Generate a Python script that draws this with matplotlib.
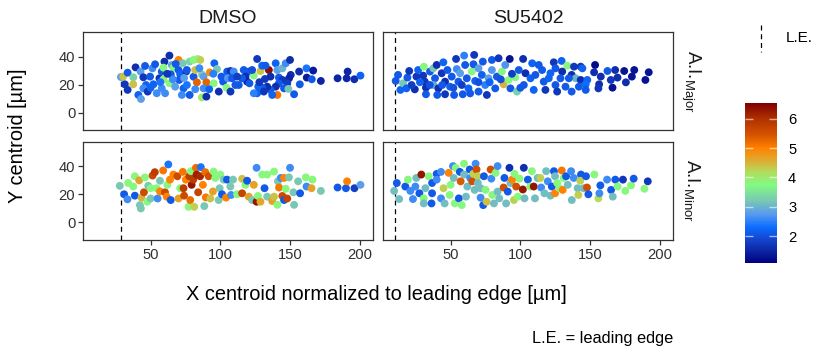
import matplotlib
matplotlib.use("Agg")
import matplotlib.pyplot as plt
from matplotlib.colors import LinearSegmentedColormap, Normalize
from matplotlib.cm import ScalarMappable
from matplotlib.lines import Line2D

plt.rcParams['font.family'] = ['Liberation Sans', 'DejaVu Sans']
plt.rcParams['mathtext.fontset'] = 'custom'
plt.rcParams['mathtext.rm'] = 'Liberation Sans'

# ---------------- data (x centroid, y centroid, A.I.) ----------------
conditions = ["DMSO", "SU5402"]
measures = ["Major", "Minor"]
leading_edge = {"DMSO": 28.5, "SU5402": 10.0}
ai_min, ai_max = 1.08, 6.54
cbar_ticks = [2, 3, 4, 5, 6]
x_ticks = [50, 100, 150, 200]
y_ticks = [0, 20, 40]

dmso_major = [
    (28.7,25.7,2.8),(30.3,26,4.4),(33.5,28.8,2.1),(37.6,25.5,3.3),(31.5,20.5,1.7),(33.5,16.5,1.7),
    (37.5,20.5,4.4),(39.2,32.6,1.6),(41.2,12.9,2.2),(43.1,10,2.8),(42.8,29.6,2.8),(46,33.6,2.1),
    (44.8,25.5,1.7),(46.7,20,2.2),(44.8,17.6,2.6),(47.9,15.3,1.7),(49.6,26,2.1),(51.3,31.9,2.6),
    (53.2,34.8,2.1),(52,20.5,2.2),(54.4,14.1,2.6),(56.3,24.8,1.7),(58,29.6,2.1),(59.9,36.7,1.6),
    (59.2,32.4,3.8),(59.2,24,3.9),(58,17.6,2.6),(60.4,14.1,2.6),(63.5,41,1.6),(63.5,21.2,3.8),
    (65.2,34.3,2.8),(66.4,32.4,3.8),(64.5,27.6,2.1),(67.6,18.8,2.8),(70,37.9,5.0),(70,30.7,2.1),
    (71.2,27.6,2.2),(70.5,23.6,2.1),(73.1,35.5,3.2),(73.6,17.6,2.2),(72.4,12.9,2.6),(75.5,29.6,1.7),
    (76,30.7,2.1),(78,36.7,3.3),(78,12.9,2.1),(80.8,25.9,2.1),(82,30.7,4.4),(80.8,37.9,3.8),
    (83.7,38.6,3.8),(85.6,37.9,4.3),(83.2,21.9,5.3),(86.8,27.6,3.3),(88,26,2.8),(90,21.9,5.3),
    (92.4,29,4.9),(88,17.6,2.6),(86.8,11.2,4.0),(90,11.7,1.6),(95.2,21.2,3.8),(95.7,35.5,2.2),
    (97.6,31.4,3.2),(98.9,15.3,1.6),(100.8,26,2.1),(102,22.4,2.1),(104.4,18.1,3.8),(104.9,29.6,2.1),
    (107.3,30,1.7),(105.4,24.8,2.7),(107.3,15.3,1.7),(50,18,2.2),(57,22,2.4),(66,24,2.6),(76,20,2.4),
    (82,17,2.6),(92,17,2.2),(62,28,1.7),(68,35,2.1),(95,28,2.5),(85,32,2.6),(74,25,2.8),
    (109.6,29.6,2.6),(108.4,24.8,2.1),(113.2,20,2.1),(116.8,30.7,2.1),(120.4,29.6,2.1),(118,26,1.6),
    (119.2,22.4,1.5),(120.9,21.2,2.1),(124,26.7,3.8),(122.8,30.7,2.0),(126.4,38.6,1.7),(128.8,30,4.4),
    (130,33.8,2.2),(134.8,30.7,6.4),(132.4,33.8,2.1),(132,24.3,1.7),(139.7,35.5,2.2),(140.9,30.7,2.8),
    (144.5,31.9,3.0),(146.9,35.5,2.6),(150,37.9,1.6),(150.5,27.2,1.6),(149.3,24.8,1.5),(142,25.3,2.1),
    (144.5,23.6,1.7),(142,21.2,2.1),(148,21.2,1.8),(145.7,17.6,2.1),(148.8,17.2,3.2),(139.7,18.8,1.6),
    (140.9,12.9,5.1),(136,16.5,2.1),(133.6,18.8,1.6),(130,18.1,2.1),(127.2,18.8,2.2),(126.4,14.1,2.2),
    (124,14.1,2.5),(131.2,15.3,1.7),(137.2,12.9,2.2),(152.9,13.4,2.1),(156.5,29.6,1.6),(157,20.5,2.1),
    (161.8,31.9,2.4),(162,25.3,1.4),(165.6,24.1,2.1),(166.6,30.3,1.4),(172.1,22.9,1.5),(184.1,24.8,1.5),
    (190.6,24.8,1.5),(191.3,29.6,1.5),(196.1,24.1,1.6),(200.5,26.7,2.2),(115.6,24.8,2.1),(110.8,20,2.1),
    (112,26,1.8),(136,26,1.6),(128,22,1.7),
]

dmso_minor = [
    (27.9,26,3.2),(31,20,2.1),(33.4,16.4,2.6),(38.7,19,2.1),(33.9,28,3.8),(37.5,25.5,3.8),(38.7,32.8,3.8),
    (41.8,29.9,4.7),(42.3,12.3,3.2),(43,9.9,3.2),(43.5,17.6,4.5),(45.2,21.4,5.6),(45.9,32,3.8),
    (47.6,14.7,3.8),(50,17,3.2),(48.3,26,3.2),(50,24.3,3.8),(51.4,33.3,5.6),(53,35.7,5.8),(54.3,24.3,3.8),
    (55,17,2.6),(56.7,22,5.0),(56.7,29.6,3.2),(59,36.9,5.1),(60.3,21.4,5.6),(61.5,18.3,5.0),(62.7,41.2,2.4),
    (62,26.7,3.8),(63.9,30.4,5.0),(64.4,15.9,2.1),(66.3,34,5.0),(69.2,32.8,5.6),(70,17,4.7),(71.2,24.3,3.8),
    (73.6,24.3,5.8),(73.1,35.9,5.1),(74,19,5.6),(75.2,30.4,5.0),(77.2,11.1,3.8),(78.4,15.9,5.2),
    (77.7,32.8,5.8),(78.9,36.4,3.8),(79.4,26.7,6.3),(80.6,30.4,5.8),(81.3,11.1,4.3),(82.5,38.8,5.2),
    (83,34,6.2),(84.1,21.4,5.7),(86,39.3,2.4),(85.5,32.8,6.1),(87.5,26.7,5.0),(89.2,35.7,5.2),
    (89.6,17.8,5.1),(88.5,11.6,3.2),(91.6,32.8,5.5),(92.8,17,4.4),(95.2,36.1,3.8),(94.7,22,4.7),
    (96.4,31.6,3.8),(98.8,15.9,3.2),(99.5,24.3,3.2),(100,34,3.8),(101.2,20,2.1),(102.4,30.4,3.2),
    (104.1,17.6,5.0),(104.8,30.4,2.1),(107.2,25.5,3.2),(109.1,30.4,3.2),(107.7,19.5,2.6),(112,20,3.8),
    (115.6,31,4.4),(115.6,20.7,5.7),(118,26.7,3.8),(119.2,29.6,2.1),(120.4,18.3,4.7),(122.8,15.9,3.2),
    (124,26.7,4.7),(126,38.8,2.6),(126,14.7,6.3),(127,18.8,3.8),(128.8,14.7,4.6),(130,34,3.8),
    (131.7,24.3,2.1),(133.6,34,3.8),(133.6,18.3,3.2),(137.2,15.2,4.7),(138.5,36.1,3.8),(138.5,18.3,4.4),
    (140.9,12.5,3.8),(141.3,29.2,3.2),(142.1,24.8,5.1),(143.3,31.6,2.6),(144.5,18.8,5.6),(145.7,31.6,5.0),
    (145.7,15.9,2.1),(146.9,23.9,3.8),(148,17,5.7),(149.2,32,3.2),(150,38.8,2.6),(152.9,12.5,3.2),
    (152.4,21.4,3.2),(155.8,29.2,3.2),(157.2,20.7,2.1),(161.3,32,3.8),(161.8,25.5,2.6),(165.4,24.3,4.7),
    (166.1,30.4,3.8),(172.1,22.4,3.2),(184.1,24.8,2.1),(190.1,24.3,2.1),(190.9,29.2,5.0),(196.2,24.3,1.8),
    (200.5,26.7,2.8),
]

su_major = [
    (12.3,27.2,2.1),(10.6,22.9,2.1),(14,16.5,2.2),(15.9,21.2,3.2),(18.3,17.6,2.2),(19,25.3,2.1),
    (20.3,30,1.7),(24.3,16.9,1.6),(25.5,26,1.7),(26.7,30.7,2.2),(30.8,33.1,3.8),(30.3,26.7,1.7),
    (31.5,22.4,1.7),(32.3,18.1,1.6),(32.3,13.4,2.1),(35.2,29.6,2.1),(37.6,31.9,3.2),(38.8,24.8,2.1),
    (37.6,20,2.9),(40,34.3,1.6),(41.2,17.6,1.6),(40.4,12.9,2.1),(43.6,28.4,1.7),(44.8,36.2,2.2),
    (46,22.4,1.6),(46,13.4,1.7),(47.7,30.7,2.1),(50.8,26,2.1),(49.6,18.8,2.2),(52.5,12.9,2.1),
    (53.9,38.6,1.7),(54.4,31.4,2.6),(55.6,22.4,2.1),(56.8,28.4,2.8),(58.7,13.4,2.1),(59.7,41,2.5),
    (60.4,34.3,2.1),(61.6,24.8,2.1),(62.8,17.6,2.2),(65.2,29.6,3.8),(66.4,34.8,2.1),(66.9,41.5,1.7),
    (67.6,22.9,2.2),(70,31.9,2.8),(70,15.3,2.1),(72.4,27.2,2.2),(73.1,36.7,2.1),(74.8,20,2.5),
    (76,12.9,1.7),(77.2,24.8,2.8),(79.6,37.9,2.1),(79.6,30.7,2.7),(82,17.6,2.1),(83.2,26,2.1),
    (84.4,39.1,1.7),(86.8,29.6,3.8),(88,20.5,4.5),(89.2,34.3,2.7),(91.6,23.6,3.8),(92.4,38.6,1.3),
    (92.9,17.6,2.1),(96.4,25.5,3.7),(97.6,15.3,3.3),(98.9,30.7,2.1),(102,38.6,1.6),(102.5,20,2.1),
    (103.7,28.4,1.6),(107.3,24.8,2.2),(108.5,35.5,2.2),(22,20,1.8),(28,22,2.2),(35,20,2.0),(44,20,2.1),
    (52,18,2.0),(58,20,1.8),(64,14,2.1),(70,22,2.0),(78,22,2.2),(86,24,2.0),(94,28,1.8),(100,18,2.1),
    (113.2,34.3,2.1),(110.8,27.2,2.1),(109.6,16.5,2.2),(116.8,22.4,2.1),(118,16.5,1.7),(124,36.2,1.7),
    (125.2,31.9,2.1),(121.6,28.4,2.2),(129.6,37.2,2.2),(133.6,33.8,3.8),(130,29.6,1.6),(128.8,24.8,2.1),
    (125.2,20,2.1),(126.4,15.3,1.7),(132.4,18.8,2.1),(136.8,27.2,1.6),(139.7,24.8,3.0),(143.3,23.6,1.6),
    (138.5,33.1,1.7),(143.3,33.1,1.7),(144.5,31.9,2.2),(148,23.6,2.2),(146.9,20.5,2.3),(146.9,16.5,2.1),
    (142,18.8,2.1),(136.8,15.3,2.1),(153.6,34.3,1.2),(152.9,29.1,1.6),(157.7,26,1.6),(156.5,20.5,1.6),
    (156,17.6,1.7),(162.5,30,2.1),(164.9,23.6,1.7),(166.1,18.1,1.3),(168,30.7,1.6),(169.7,25.3,1.6),
    (174.5,30,1.3),(175.7,21.9,1.6),(180,26,1.3),(181.7,30.7,1.3),(189.7,23.6,1.3),(192.1,29.1,1.3),
    (134.8,24.8,2.1),(120.4,24.8,2.2),(115.6,30.7,2.1),
]

su_minor = [
    (9.5,22.4,3.1),(11.4,28,2.1),(13.1,16.6,3.1),(17.5,25.5,2.1),(19.4,30.4,3.8),(21.1,22.4,2.6),
    (23,16.6,2.6),(24.7,25.5,2.6),(25.4,31.6,3.1),(27.6,20.7,2.1),(29,34,6.3),(30.7,17.1,3.8),
    (30.7,13.5,3.1),(31.9,24.3,3.1),(34.3,32.8,3.8),(36.7,28,2.1),(36.7,20.7,2.1),(36.3,13.5,2.1),
    (40,34.5,2.1),(40,30.4,2.6),(43.1,17.1,2.6),(43.1,35.9,2.6),(44.9,24.3,4.3),(45.7,13.5,3.1),
    (48.6,35.2,5.0),(49.3,19.5,3.8),(50,26.7,3.8),(51.7,40,2.6),(52.2,31.6,3.1),(53,13.5,3.8),
    (53.7,38.8,3.8),(55.9,17.1,2.1),(56.6,35.9,2.1),(57.2,29.2,5.4),(58,12.3,3.8),(59.6,41.7,3.8),
    (59.6,34,3.1),(61,18.3,3.1),(62,25.5,3.1),(63.7,37.6,2.1),(64,31.6,2.6),(65.5,29.2,5.5),
    (66.2,34.5,4.3),(67.2,23.1,3.1),(67.9,41.7,2.6),(68.6,37.6,5.5),(69.5,32.8,4.3),(69.5,28,3.1),
    (71.5,24.3,3.1),(71.5,17.6,2.6),(73.4,12.3,2.1),(73.9,32.8,2.1),(75.1,23.1,3.8),(75.8,14.7,4.4),
    (78.7,37.6,5.5),(79.2,31.1,2.6),(79.9,19.5,3.8),(82.3,35.2,3.8),(81.1,13.5,3.1),(83.7,40,2.6),
    (83.7,21.9,3.1),(84.9,17.1,3.1),(88,24.8,5.5),(88.6,31.6,2.1),(89.8,13.5,3.1),(92.2,38.8,1.6),
    (91,21.9,2.1),(92.9,28,3.1),(94.1,30.4,5.0),(95.4,15.9,4.3),(95.8,34.5,3.8),(97,25.5,5.5),
    (98.2,18.3,3.8),(99.4,31.1,3.8),(101.8,23.4,6.3),(102.5,38.8,1.6),(103,17.1,3.1),(105.4,30.4,2.1),
    (107.1,25.5,3.8),(108.3,36.4,3.8),(109.6,25.5,6.3),(110.5,17.1,3.1),(112.4,31.6,3.1),(114.4,31.6,4.3),
    (114.9,24.8,2.6),(117.3,20.7,3.1),(118.5,36.4,3.1),(119.7,29.2,2.6),(121.6,19,3.1),(122.6,25.5,2.1),
    (124.1,36.4,2.1),(124.9,32.8,3.1),(124.9,20.7,5.0),(126.4,28,3.8),(128,24.3,3.8),(129.7,36.9,5.1),
    (130.4,23.1,5.0),(131.1,31.6,3.8),(132.8,32.8,2.1),(134,26.7,3.1),(136.4,36.4,2.6),(136.9,15.9,3.1),
    (138.3,31.6,2.6),(141.1,24.3,3.1),(141.6,19.5,4.3),(143.5,34,2.1),(143,29.6,4.3),(145.4,24.3,3.1),
    (147.1,32.8,2.1),(147.8,24.8,5.5),(148.8,20,2.1),(153.1,34,3.8),(156,17.1,4.2),(156.7,20.7,2.6),
    (157.4,26.3,2.1),(162.2,30.4,2.6),(165.1,23.1,2.1),(166.3,18.3,3.1),(168.1,30.4,2.1),(169.8,25.5,3.8),
    (173.6,30.4,1.7),(175.3,22.4,3.8),(179.4,26.3,3.8),(181.3,31.1,2.1),(189,23.9,3.8),(191.4,29.2,1.7),
]

panel_data = {("DMSO", "Major"): dmso_major, ("DMSO", "Minor"): dmso_minor,
              ("SU5402", "Major"): su_major, ("SU5402", "Minor"): su_minor}

# ---------------- colour scale ----------------
cnodes = [(1.08, '#000080'), (1.6, '#0f2fae'), (2.0, '#1450dc'), (2.3, '#0a6eff'),
          (2.75, '#5a9af0'), (3.2, '#78c8b4'), (3.75, '#82fa82'), (4.2, '#b4dc5a'),
          (4.5, '#d7b43c'), (5.0, '#ff8200'), (5.5, '#d25000'), (6.0, '#b03200'),
          (6.54, '#800000')]
cmap = LinearSegmentedColormap.from_list(
    'ai', [((v - ai_min) / (ai_max - ai_min), c) for v, c in cnodes])
norm = Normalize(ai_min, ai_max)

# ---------------- layout ----------------
W, H = 815, 353
fig = plt.figure(figsize=(W / 100, H / 100), dpi=100)


def rect(l, t, r, b):
    return [l / W, 1 - b / H, (r - l) / W, (b - t) / H]


col_lr = {"DMSO": (83, 373), "SU5402": (383, 673)}
row_tb = {"Major": (32.5, 130.5), "Minor": (141.5, 240)}

for cond in conditions:
    for meas in measures:
        l, r = col_lr[cond]
        t, b = row_tb[meas]
        ax = fig.add_axes(rect(l, t, r, b))
        pts = panel_data[(cond, meas)]
        xs = [p[0] for p in pts]
        ys = [p[1] for p in pts]
        vs = [p[2] for p in pts]
        ax.axvline(leading_edge[cond], color='black', lw=0.9, ls=(0, (4, 3)), zorder=2)
        ax.scatter(xs, ys, c=vs, cmap=cmap, norm=norm, s=32, linewidths=0, zorder=3)
        ax.set_xlim(1.5, 209.5)
        ax.set_ylim(-12.5, 57.5)
        ax.set_xticks(x_ticks)
        ax.set_yticks(y_ticks)
        for sp in ax.spines.values():
            sp.set_color('#333333')
            sp.set_linewidth(0.9)
        ax.tick_params(colors='#333333', labelcolor='#303030', labelsize=10.6,
                       length=3.5, width=0.9, pad=2)
        if meas == "Major":
            ax.tick_params(axis='x', bottom=False, labelbottom=False)
        if cond == "SU5402":
            ax.tick_params(axis='y', left=False, labelleft=False)
        if meas == "Major":
            fig.text((l + r) / 2 / W, 1 - 22.7 / H, cond, ha='center', va='baseline',
                     fontsize=14, color='#1a1a1a')
        if cond == "SU5402":
            fig.text(691 / W, 1 - ((t + b) / 2) / H, r'A.I.$_{\mathrm{' + meas + '}}$',
                     rotation=270, ha='center', va='center', fontsize=13.5, color='#1a1a1a')

fig.text(18 / W, 1 - 136 / H, 'Y centroid [µm]', rotation=90, ha='center', va='center',
         fontsize=14.4)
fig.text(376 / W, 1 - 295 / H, 'X centroid normalized to leading edge [µm]',
         ha='center', va='center', fontsize=14.4)
fig.text(673 / W, 1 - 338 / H, 'L.E. = leading edge', ha='right', va='center', fontsize=11.8)

# legend for leading edge
fig.add_artist(Line2D([761 / W, 761 / W], [1 - 25 / H, 1 - 52 / H], color='black',
                      lw=0.9, ls=(0, (4, 3))))
fig.text(786 / W, 1 - 38 / H, 'L.E.', ha='left', va='center', fontsize=11)

# colour bar
cax = fig.add_axes(rect(745, 103, 777, 263))
cb = fig.colorbar(ScalarMappable(norm=norm, cmap=cmap), cax=cax)
cb.outline.set_visible(False)
cb.set_ticks(cbar_ticks)
cax.yaxis.set_ticks_position('both')
cax.tick_params(direction='in', length=6, width=1, color=(1, 1, 1, 0.6),
                labelsize=10.6, pad=8, labelleft=False, labelright=True)

fig.savefig('out.png', dpi=100)
